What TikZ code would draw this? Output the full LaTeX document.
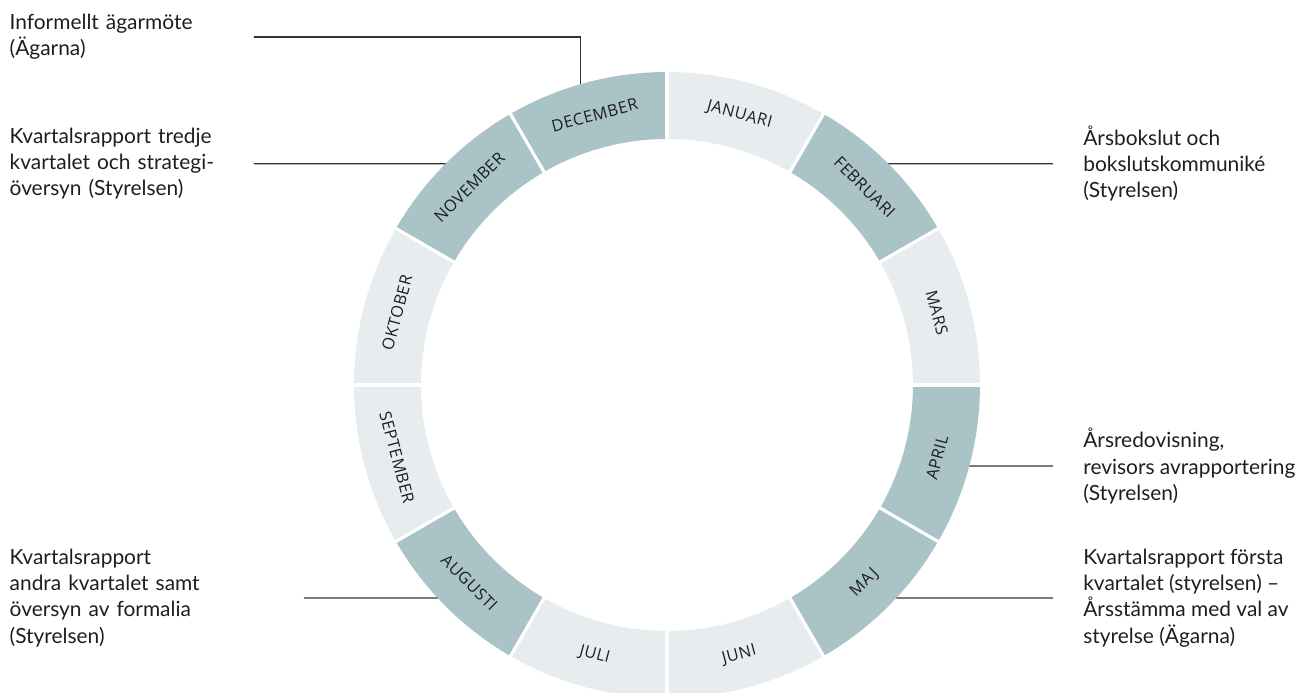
\documentclass[tikz,border=0pt]{standalone}
\usepackage{fontspec}
\setmainfont{Lato}
\newfontfamily\monthfont[LetterSpace=3]{Open Sans}
\usetikzlibrary{positioning, calc}

\definecolor{ringdark}{HTML}{AAC3C6}
\definecolor{ringlight}{HTML}{E7EDEF}
\definecolor{inktext}{HTML}{1E1E1E}
\definecolor{leadgray}{HTML}{333333}

\tikzset{
  event/.style={font=\fontsize{11.9}{14.9}\selectfont, text=inktext,
    align=left, inner sep=0pt},
  leader/.style={leadgray, line width=0.7pt},
  monthlabel/.style={font=\monthfont\fontsize{9.3}{11}\selectfont,
    text=inktext, inner sep=0pt}
}

\begin{document}
\begin{tikzpicture}[x=0.02cm, y=0.02cm]
\useasboundingbox (-667,-308) rectangle (636,385);
\clip (-667,-308) rectangle (636,385);

% --- Ring segments (start angle / colour), clockwise from the top ---
\foreach \a/\col in {90/ringlight, 60/ringdark, 30/ringlight, 0/ringdark,
    -30/ringdark, -60/ringlight, -90/ringlight, -120/ringdark,
    -150/ringlight, -180/ringlight, -210/ringdark, -240/ringdark} {
  \fill[\col] (\a:313) arc[start angle=\a, end angle=\a-30, radius=313]
    -- (\a-30:246) arc[start angle=\a-30, end angle=\a, radius=246] -- cycle;
}

% --- White gaps between the months ---
\foreach \a in {0, 30, ..., 330} {
  \draw[white, line width=1.8pt] (\a:240) -- (\a:320);
}

% --- Month labels, turned along the ring ---
\foreach \m [count=\i from 0] in {JANUARI, FEBRUARI, MARS, APRIL, MAJ, JUNI,
    JULI, AUGUSTI, SEPTEMBER, OKTOBER, NOVEMBER, DECEMBER} {
  \pgfmathsetmacro\mid{75-30*\i}
  \pgfmathsetmacro\rot{(sin(\mid) > 0) ? (\mid-90) : (\mid+90)}
  \node[monthlabel, rotate=\rot] (m-\i) at (\mid:279.5) {\m};
}

% --- Points on the outer edge where the leaders end ---
\coordinate (p-dec) at (106.1:313);
\coordinate (p-nov) at (135:313);
\coordinate (p-feb) at (45:313);
\coordinate (p-apr) at (-15:313);
\coordinate (p-maj) at (-42.9:313);
\coordinate (p-aug) at (-137.1:313);

% --- Left events ---
\node[event, anchor=east, text width=4.88cm] (ev-dec) at (-413, 348)
  {Informellt ägarmöte\\(Ägarna)};
\node[event, anchor=east, text width=4.88cm] (ev-nov) at (-413, 221.3)
  {Kvartalsrapport tredje\\kvartalet och strategi-\\översyn (Styrelsen)};
\node[event, anchor=east, text width=5.88cm] (ev-aug) at (-363, -213)
  {Kvartalsrapport\\andra kvartalet samt\\översyn av formalia\\(Styrelsen)};

% --- Right events ---
\node[event, anchor=west, inner xsep=0.6cm] (ev-feb) at (386, 221.3)
  {Årsbokslut och\\bokslutskommuniké\\(Styrelsen)};
\node[event, anchor=west, inner xsep=0.6cm] (ev-apr) at (386, -81)
  {Årsredovisning,\\revisors avrapportering\\(Styrelsen)};
\node[event, anchor=west, inner xsep=0.6cm] (ev-maj) at (386, -213)
  {Kvartalsrapport första\\kvartalet (styrelsen) –\\Årsstämma med val av\\styrelse (Ägarna)};

% --- Leaders ---
\draw[leader] (ev-dec.east) -| (p-dec);
\draw[leader] (ev-nov.east) -- (p-nov);
\draw[leader] (ev-aug.east) -- (p-aug);
\draw[leader] (p-feb) -- (ev-feb.west);
\draw[leader] (p-apr) -- (ev-apr.west);
\draw[leader] (p-maj) -- (ev-maj.west);

\end{tikzpicture}
\end{document}
